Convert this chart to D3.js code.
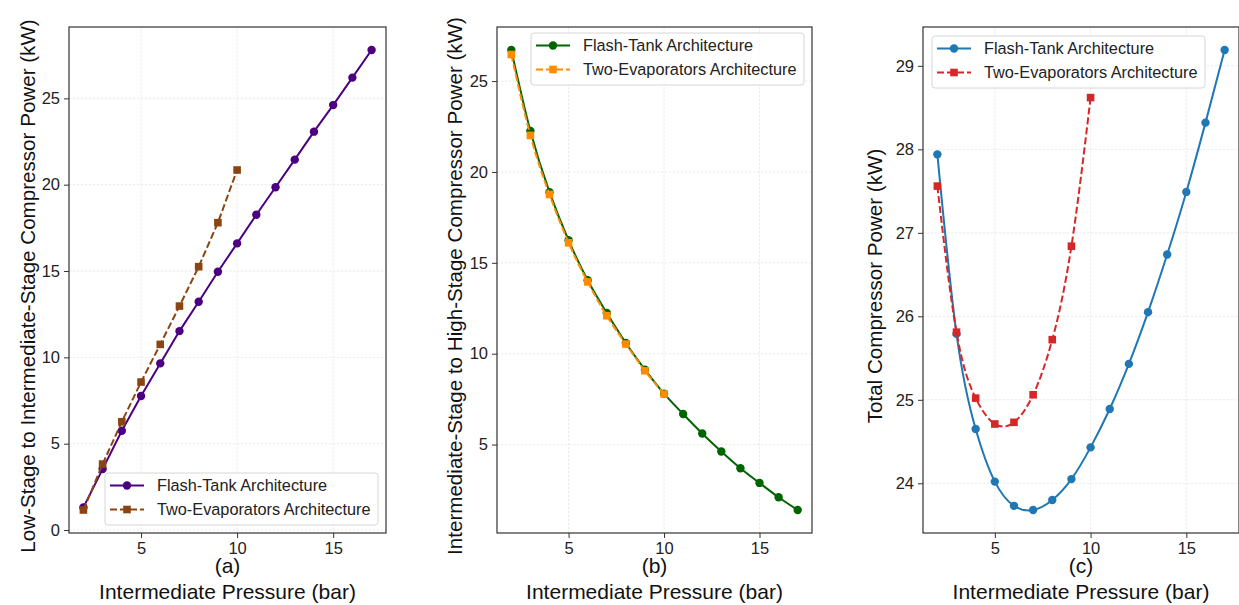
<!DOCTYPE html>
<html>
<head>
<meta charset="utf-8">
<script src="https://cdn.jsdelivr.net/npm/d3@7"></script>
<style>
  body { margin: 0; background: #fff; }
  svg { display: block; font-family: "Liberation Sans", Arial, sans-serif; }
</style>
</head>
<body>
<svg id="chart"></svg>
<script>
// pressures (bar)
const pFlash = [2, 3, 4, 5, 6, 7, 8, 9, 10, 11, 12, 13, 14, 15, 16, 17];
const pTwoEvap = [2, 3, 4, 5, 6, 7, 8, 9, 10];

// (a) low-stage to intermediate-stage compressor power (kW)
const lowFlash = [1.31, 3.53, 5.75, 7.76, 9.65, 11.52, 13.22, 14.96, 16.6, 18.26, 19.85, 21.45, 23.07, 24.61, 26.2, 27.8];
const lowTwoEvap = [1.16, 3.82, 6.27, 8.57, 10.75, 12.97, 15.25, 17.8, 20.85];

// (b) intermediate-stage to high-stage compressor power (kW)
const highFlash = [26.71, 22.25, 18.89, 16.24, 14.04, 12.24, 10.59, 9.12, 7.8, 6.68, 5.61, 4.62, 3.7, 2.89, 2.1, 1.4];
const highTwoEvap = [26.46, 22.01, 18.76, 16.1, 13.95, 12.09, 10.53, 9.06, 7.78];

// (c) total compressor power (kW)
const totalFlash = [27.94, 25.79, 24.65, 24.02, 23.73, 23.68, 23.8, 24.05, 24.43, 24.89, 25.43, 26.05, 26.74, 27.49, 28.32, 29.19];
const totalTwoEvap = [27.56, 25.81, 25.02, 24.71, 24.73, 25.06, 25.72, 26.84, 28.62];

const seriesNames = ["Flash-Tank Architecture", "Two-Evaporators Architecture"];
const xTicks = [5, 10, 15];

const width = 1239, height = 605;
const svg = d3.select("#chart").attr("width", width).attr("height", height);

const panels = [
  {
    left: 69, right: 386, tag: "(a)",
    ylabel: "Low-Stage to Intermediate-Stage Compressor Power (kW)", ylabelX: 28,
    yTicks: [0, 5, 10, 15, 20, 25],
    flash: lowFlash, two: lowTwoEvap,
    colors: ["#4b0082", "#8b4513"], curve: d3.curveLinear, legend: "lower right"
  },
  {
    left: 497, right: 812, tag: "(b)",
    ylabel: "Intermediate-Stage to High-Stage Compressor Power (kW)", ylabelX: 455,
    yTicks: [5, 10, 15, 20, 25],
    flash: highFlash, two: highTwoEvap,
    colors: ["#006400", "#ff8c00"], curve: d3.curveNatural, legend: "upper right"
  },
  {
    left: 923, right: 1239, tag: "(c)",
    ylabel: "Total Compressor Power (kW)", ylabelX: 875,
    yTicks: [24, 25, 26, 27, 28, 29],
    flash: totalFlash, two: totalTwoEvap,
    colors: ["#1f77b4", "#d62728"], curve: d3.curveNatural, legend: "upper left"
  }
];

const plotTop = 27, plotBottom = 533;

function padded(lo, hi) {
  const m = (hi - lo) * 0.05;
  return [lo - m, hi + m];
}

panels.forEach(p => {
  const g = svg.append("g");

  const allY = p.flash.concat(p.two);
  const x = d3.scaleLinear().domain(padded(2, 17)).range([p.left, p.right]);
  const y = d3.scaleLinear().domain(padded(d3.min(allY), d3.max(allY))).range([plotBottom, plotTop]);

  // grid
  g.append("g").selectAll("line").data(xTicks).join("line")
    .attr("x1", d => x(d)).attr("x2", d => x(d))
    .attr("y1", plotTop).attr("y2", plotBottom)
    .attr("stroke", "#e2e2e2").attr("stroke-width", 0.7).attr("stroke-dasharray", "2.5,1.5");
  g.append("g").selectAll("line").data(p.yTicks).join("line")
    .attr("x1", p.left).attr("x2", p.right)
    .attr("y1", d => y(d)).attr("y2", d => y(d))
    .attr("stroke", "#e2e2e2").attr("stroke-width", 0.7).attr("stroke-dasharray", "2.5,1.5");

  // axes
  const xAxis = g.append("g").attr("transform", `translate(0,${plotBottom})`)
    .call(d3.axisBottom(x).tickValues(xTicks).tickFormat(d3.format("d")).tickSize(5).tickPadding(4));
  const yAxis = g.append("g").attr("transform", `translate(${p.left},0)`)
    .call(d3.axisLeft(y).tickValues(p.yTicks).tickFormat(d3.format("d")).tickSize(5).tickPadding(4));
  [xAxis, yAxis].forEach(a => {
    a.select(".domain").remove();
    a.selectAll(".tick line").attr("stroke", "#333");
    a.selectAll("text").attr("fill", "#222").style("font-size", "16.5px")
      .style("font-family", "'Liberation Sans', Arial, sans-serif");
  });

  // frame
  g.append("rect")
    .attr("x", p.left).attr("y", plotTop)
    .attr("width", p.right - p.left).attr("height", plotBottom - plotTop)
    .attr("fill", "none").attr("stroke", "#333").attr("stroke-width", 1.2);

  // lines and markers
  const sets = [
    { xs: pFlash, ys: p.flash, color: p.colors[0], dash: null, marker: "circle" },
    { xs: pTwoEvap, ys: p.two, color: p.colors[1], dash: "7,3", marker: "square" }
  ];
  const plot = g.append("g");
  sets.forEach(s => {
    const pts = s.xs.map((v, i) => [v, s.ys[i]]);
    plot.append("path")
      .attr("d", d3.line().x(d => x(d[0])).y(d => y(d[1])).curve(p.curve)(pts))
      .attr("fill", "none").attr("stroke", s.color).attr("stroke-width", 2)
      .attr("stroke-dasharray", s.dash);
    if (s.marker === "circle") {
      plot.append("g").selectAll("circle").data(pts).join("circle")
        .attr("cx", d => x(d[0])).attr("cy", d => y(d[1])).attr("r", 4.2)
        .attr("fill", s.color);
    } else {
      plot.append("g").selectAll("rect").data(pts).join("rect")
        .attr("x", d => x(d[0]) - 3.8).attr("y", d => y(d[1]) - 3.8)
        .attr("width", 7.6).attr("height", 7.6)
        .attr("fill", s.color);
    }
  });

  // legend
  const lw = 273, lh = 52, pad = 8;
  let lx, ly;
  if (p.legend === "lower right") { lx = p.right - pad - lw; ly = plotBottom - pad - lh; }
  else if (p.legend === "upper right") { lx = p.right - pad - lw; ly = plotTop + 6; }
  else { lx = p.left + 9; ly = plotTop + 9; }
  const leg = g.append("g").attr("transform", `translate(${lx},${ly})`);
  leg.append("rect").attr("width", lw).attr("height", lh).attr("rx", 3)
    .attr("fill", "rgba(255,255,255,0.85)").attr("stroke", "#d6d6d6");
  sets.forEach((s, i) => {
    const ry = 12.5 + i * 24;
    leg.append("line").attr("x1", 5).attr("x2", 39).attr("y1", ry).attr("y2", ry)
      .attr("stroke", s.color).attr("stroke-width", 2).attr("stroke-dasharray", s.dash);
    if (s.marker === "circle") {
      leg.append("circle").attr("cx", 22).attr("cy", ry).attr("r", 4.2).attr("fill", s.color);
    } else {
      leg.append("rect").attr("x", 18.2).attr("y", ry - 3.8).attr("width", 7.6).attr("height", 7.6)
        .attr("fill", s.color);
    }
    leg.append("text").attr("x", 52).attr("y", ry + 5.8)
      .attr("fill", "#222").style("font-size", "16.3px").text(seriesNames[i]);
  });

  // labels
  const cx = (p.left + p.right) / 2;
  g.append("text").attr("x", cx).attr("y", 573).attr("text-anchor", "middle")
    .attr("fill", "#111").style("font-size", "21px").text(p.tag);
  g.append("text").attr("x", cx).attr("y", 599).attr("text-anchor", "middle")
    .attr("fill", "#111").style("font-size", "21px").text("Intermediate Pressure (bar)");
  g.append("text")
    .attr("transform", `translate(${p.ylabelX},${(plotTop + plotBottom) / 2 + 6}) rotate(-90)`)
    .attr("text-anchor", "middle").attr("dy", "0.35em")
    .attr("fill", "#111").style("font-size", "20.6px").text(p.ylabel);
});
</script>
</body>
</html>
